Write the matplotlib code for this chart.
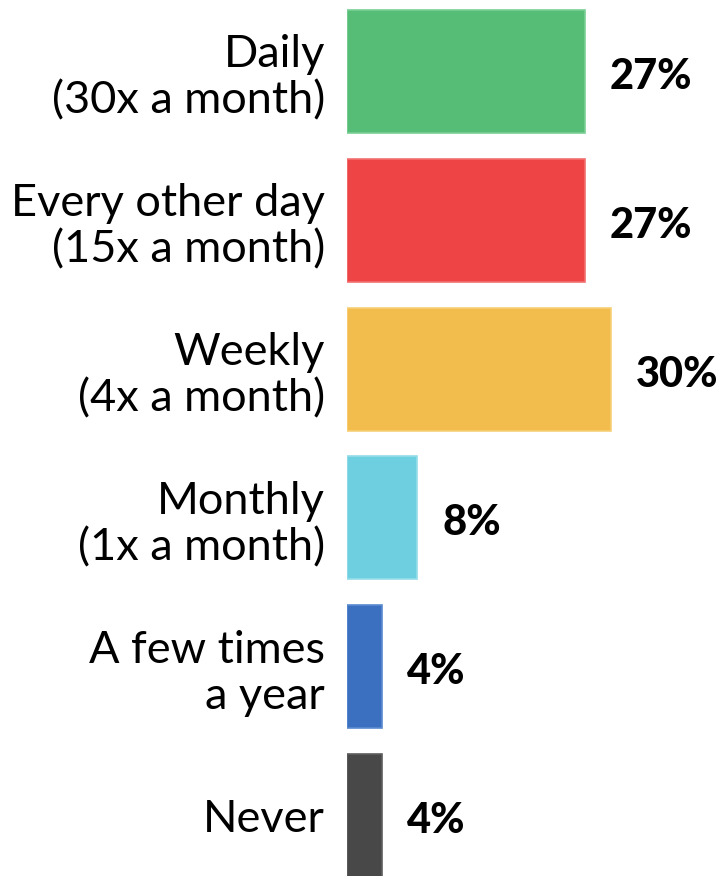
import matplotlib
matplotlib.use("Agg")
import matplotlib.pyplot as plt

labels = ["Daily\n(30x a month)", "Every other day\n(15x a month)", "Weekly\n(4x a month)",
          "Monthly\n(1x a month)", "A few times\na year", "Never"]
values = [27, 27, 30, 8, 4, 4]
colors = ["#55BD76", "#EE4446", "#F3BD4E", "#6DCFDF", "#3B6FC0", "#484848"]
edges = ["#7ACF95", "#F27070", "#F7CF78", "#95DDE8", "#5A8AD0", "#5E5E5E"]

fig = plt.figure(figsize=(7.24, 8.76), dpi=100)
ax = fig.add_axes([347 / 724, 0, 377 / 724, 1])

pos = list(range(len(values)))
ax.barh(pos, values, height=0.826, color=colors, edgecolor=edges, linewidth=1.2)

ax.set_xlim(0, 42.8)
ax.set_ylim(5.406, -0.48)

ax.set_yticks(pos)
ax.set_yticklabels(labels, fontsize=32.5, family="Lato", multialignment="right",
                   linespacing=1.15)
ax.tick_params(axis="y", length=0, pad=16)
ax.set_xticks([])
for s in ax.spines.values():
    s.set_visible(False)

# value labels sit a bit below the bar middle in the original
for p, v in zip(pos, values):
    ax.annotate(f"{v}%", (v, p), xytext=(18, -4), textcoords="offset points",
                va="center", ha="left", fontsize=30, fontweight="black", family="Lato")

fig.savefig("out.png", dpi=100)
